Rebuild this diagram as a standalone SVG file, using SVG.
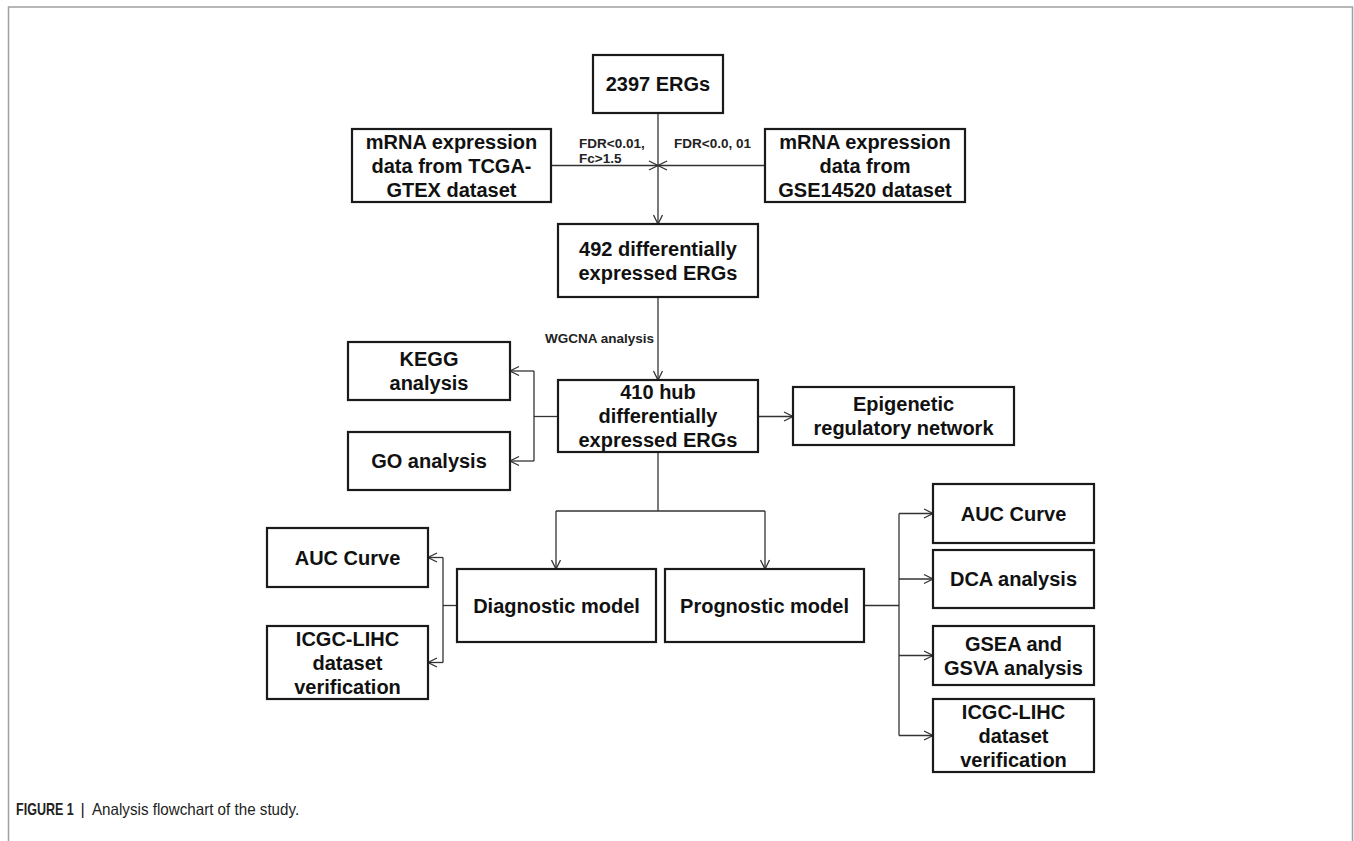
<svg xmlns="http://www.w3.org/2000/svg" width="1354" height="841" viewBox="0 0 1354 841">
<defs>
<marker id="arr" markerUnits="userSpaceOnUse" markerWidth="12" markerHeight="12" viewBox="0 0 12 12" refX="10" refY="6" orient="auto">
<path d="M1,1.5 L10,6 L1,10.5" fill="none" stroke="#333" stroke-width="1.3"/>
</marker>
</defs>
<style>
.box{fill:#fff;stroke:#1a1a1a;stroke-width:2.2}
.t{font-family:"Liberation Sans",Arial,sans-serif;font-weight:bold;font-size:20px;fill:#111;text-anchor:middle}
.lbl{font-family:"Liberation Sans",Arial,sans-serif;font-weight:bold;font-size:13.5px;fill:#222}
.c{fill:none;stroke:#333;stroke-width:1.3}
.frame{fill:none;stroke:#a0a0a0;stroke-width:1.5}
.cap{font-family:"Liberation Sans",Arial,sans-serif;font-size:16.5px;fill:#222}
</style>
<rect width="1354" height="841" fill="#fff"/>
<path class="frame" d="M8.5,841 L8.5,7 L1352.5,7 L1352.5,841"/>

<g id="connectors">
<line class="c" x1="658" y1="113" x2="658" y2="224" marker-end="url(#arr)"/>
<line class="c" x1="551" y1="165.5" x2="658" y2="165.5" marker-end="url(#arr)"/>
<line class="c" x1="765" y1="165.5" x2="658" y2="165.5" marker-end="url(#arr)"/>
<line class="c" x1="658" y1="297" x2="658" y2="380" marker-end="url(#arr)"/>
<polyline class="c" points="558,416.5 534,416.5"/>
<polyline class="c" points="534,371 534,461"/>
<line class="c" x1="534" y1="371" x2="510" y2="371" marker-end="url(#arr)"/>
<line class="c" x1="534" y1="461" x2="510" y2="461" marker-end="url(#arr)"/>
<line class="c" x1="758" y1="416.5" x2="793" y2="416.5" marker-end="url(#arr)"/>
<line class="c" x1="658" y1="452" x2="658" y2="511"/>
<line class="c" x1="556" y1="511" x2="765" y2="511"/>
<line class="c" x1="556" y1="511" x2="556" y2="569" marker-end="url(#arr)"/>
<line class="c" x1="765" y1="511" x2="765" y2="569" marker-end="url(#arr)"/>
<line class="c" x1="457" y1="605.5" x2="443" y2="605.5"/>
<line class="c" x1="443" y1="557.5" x2="443" y2="662.5"/>
<line class="c" x1="443" y1="557.5" x2="428" y2="557.5" marker-end="url(#arr)"/>
<line class="c" x1="443" y1="662.5" x2="428" y2="662.5" marker-end="url(#arr)"/>
<line class="c" x1="864" y1="605.5" x2="899" y2="605.5"/>
<line class="c" x1="899" y1="513.5" x2="899" y2="735.5"/>
<line class="c" x1="899" y1="513.5" x2="933" y2="513.5" marker-end="url(#arr)"/>
<line class="c" x1="899" y1="579" x2="933" y2="579" marker-end="url(#arr)"/>
<line class="c" x1="899" y1="655.5" x2="933" y2="655.5" marker-end="url(#arr)"/>
<line class="c" x1="899" y1="735.5" x2="933" y2="735.5" marker-end="url(#arr)"/>
<text class="lbl" x="579" y="148">FDR&lt;0.01,</text>
<text class="lbl" x="579" y="163">Fc&gt;1.5</text>
<text class="lbl" x="674" y="148">FDR&lt;0.0, 01</text>
<text class="lbl" x="654" y="343" text-anchor="end">WGCNA analysis</text>
</g>

<g id="n2397">
<rect class="box" x="593" y="55" width="130" height="58"/>
<text class="t" x="658" y="91">2397 ERGs</text>
</g>
<g id="mrna_tcga">
<rect class="box" x="352" y="129" width="199" height="73"/>
<text class="t" x="451.5" y="148.5">mRNA expression</text>
<text class="t" x="451.5" y="172.5">data from TCGA-</text>
<text class="t" x="451.5" y="196.5">GTEX dataset</text>
</g>
<g id="mrna_gse">
<rect class="box" x="765" y="129" width="200" height="73"/>
<text class="t" x="865" y="148.5">mRNA expression</text>
<text class="t" x="865" y="172.5">data from</text>
<text class="t" x="865" y="196.5">GSE14520 dataset</text>
</g>
<g id="n492">
<rect class="box" x="558" y="224" width="200" height="73"/>
<text class="t" x="658" y="255.5">492 differentially</text>
<text class="t" x="658" y="279.5">expressed ERGs</text>
</g>
<g id="n410">
<rect class="box" x="558" y="380" width="200" height="72"/>
<text class="t" x="658" y="399">410 hub</text>
<text class="t" x="658" y="423">differentially</text>
<text class="t" x="658" y="447">expressed ERGs</text>
</g>
<g id="kegg">
<rect class="box" x="348" y="342" width="162" height="58"/>
<text class="t" x="429" y="366">KEGG</text>
<text class="t" x="429" y="390">analysis</text>
</g>
<g id="go">
<rect class="box" x="348" y="432" width="162" height="58"/>
<text class="t" x="429" y="468">GO analysis</text>
</g>
<g id="epi">
<rect class="box" x="793" y="387" width="221" height="58"/>
<text class="t" x="903.5" y="411">Epigenetic</text>
<text class="t" x="903.5" y="435">regulatory network</text>
</g>
<g id="diag">
<rect class="box" x="457" y="569" width="199" height="73"/>
<text class="t" x="556.5" y="612.5">Diagnostic model</text>
</g>
<g id="prog">
<rect class="box" x="665" y="569" width="199" height="73"/>
<text class="t" x="764.5" y="612.5">Prognostic model</text>
</g>
<g id="auc_l">
<rect class="box" x="267" y="528" width="161" height="59"/>
<text class="t" x="347.5" y="564.5">AUC Curve</text>
</g>
<g id="icgc_l">
<rect class="box" x="267" y="626" width="161" height="73"/>
<text class="t" x="347.5" y="645.5">ICGC-LIHC</text>
<text class="t" x="347.5" y="669.5">dataset</text>
<text class="t" x="347.5" y="693.5">verification</text>
</g>
<g id="auc_r">
<rect class="box" x="933" y="484" width="161" height="59"/>
<text class="t" x="1013.5" y="520.5">AUC Curve</text>
</g>
<g id="dca">
<rect class="box" x="933" y="550" width="161" height="58"/>
<text class="t" x="1013.5" y="586">DCA analysis</text>
</g>
<g id="gsea">
<rect class="box" x="933" y="626" width="161" height="59"/>
<text class="t" x="1013.5" y="650.5">GSEA and</text>
<text class="t" x="1013.5" y="674.5">GSVA analysis</text>
</g>
<g id="icgc_r">
<rect class="box" x="933" y="699" width="161" height="73"/>
<text class="t" x="1013.5" y="718.5">ICGC-LIHC</text>
<text class="t" x="1013.5" y="742.5">dataset</text>
<text class="t" x="1013.5" y="766.5">verification</text>
</g>

<g id="caption">
<text class="cap" transform="translate(16,815) scale(0.76,1)" font-weight="bold">FIGURE 1</text>
<text class="cap" x="80.5" y="815" fill="#999">|</text>
<text class="cap" transform="translate(92,815) scale(0.92,1)">Analysis flowchart of the study.</text>
</g>
</svg>
